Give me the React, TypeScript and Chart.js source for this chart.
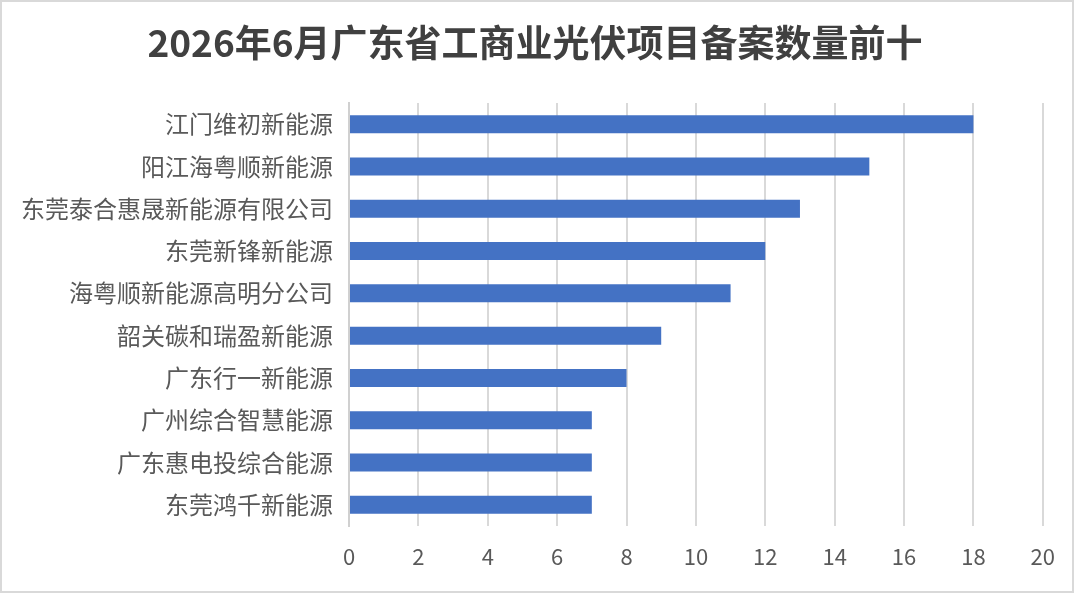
import { useEffect, useRef } from "react";
import { Chart, registerables, type ChartConfiguration, type Plugin } from "chart.js";

Chart.register(...registerables);

const TITLE = "2026年6月广东省工商业光伏项目备案数量前十";

const companies = [
  "江门维初新能源",
  "阳江海粤顺新能源",
  "东莞泰合惠晟新能源有限公司",
  "东莞新锋新能源",
  "海粤顺新能源高明分公司",
  "韶关碳和瑞盈新能源",
  "广东行一新能源",
  "广州综合智慧能源",
  "广东惠电投综合能源",
  "东莞鸿千新能源",
];

const filings = [18, 15, 13, 12, 11, 9, 8, 7, 7, 7];

const FONT = "'Noto Sans CJK SC', 'Noto Sans', sans-serif";

// built-in title centres on the padded box, so draw it centred on the canvas instead
const pageTitle: Plugin<"bar"> = {
  id: "pageTitle",
  afterDraw(chart) {
    const { ctx, width } = chart;
    ctx.save();
    ctx.font = `bold 37px ${FONT}`;
    ctx.fillStyle = "#404040";
    ctx.textAlign = "center";
    ctx.textBaseline = "middle";
    ctx.fillText(TITLE, width / 2 - 2, 41);
    ctx.restore();
  },
};

export default function App() {
  const canvasRef = useRef<HTMLCanvasElement>(null);
  const chartRef = useRef<Chart | null>(null);

  useEffect(() => {
    document.body.style.margin = "0";
    const ctx = canvasRef.current?.getContext("2d");
    if (!ctx) return;
    chartRef.current?.destroy();

    const config: ChartConfiguration<"bar"> = {
      type: "bar",
      data: {
        labels: companies,
        datasets: [
          {
            data: filings,
            backgroundColor: "#4472C4",
            barPercentage: 0.425,
            categoryPercentage: 1,
          },
        ],
      },
      options: {
        indexAxis: "y",
        responsive: false,
        animation: false,
        layout: { padding: { top: 101, right: 28, bottom: 0, left: 0 } },
        plugins: {
          legend: { display: false },
          tooltip: { enabled: false },
          title: { display: false },
        },
        scales: {
          x: {
            min: 0,
            max: 20,
            ticks: {
              stepSize: 2,
              color: "#595959",
              padding: 17,
              font: { family: FONT, size: 22 },
            },
            grid: { color: "#d9d9d9", lineWidth: 2, drawTicks: false },
            border: { display: false },
            afterFit: (scale) => {
              scale.height = 589 - 524;
            },
          },
          y: {
            ticks: {
              color: "#595959",
              padding: 16,
              font: { family: FONT, size: 24 },
            },
            grid: { display: false, drawTicks: false },
            border: { display: true, color: "#d0d0d0", width: 2 },
            afterFit: (scale) => {
              scale.width = 347;
            },
          },
        },
      },
      plugins: [pageTitle],
    };

    chartRef.current = new Chart(ctx, config);
    return () => chartRef.current?.destroy();
  }, []);

  return (
    <div
      style={{
        width: 1074,
        height: 593,
        boxSizing: "border-box",
        border: "2px solid #d9d9d9",
        background: "#ffffff",
      }}
    >
      <canvas ref={canvasRef} width={1070} height={589} style={{ display: "block" }} />
    </div>
  );
}
